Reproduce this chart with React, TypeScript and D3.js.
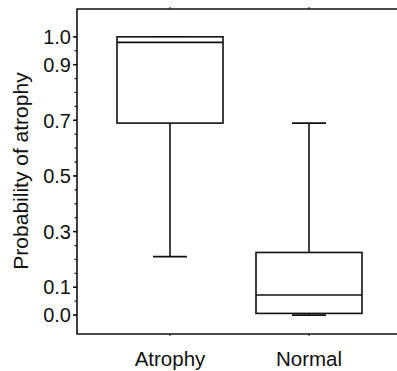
import { useEffect, useRef } from "react";
import * as d3 from "d3";

interface BoxStats {
  group: string;
  min: number;
  q1: number;
  median: number;
  q3: number;
  max: number;
}

const groups = ["Atrophy", "Normal"];
const mins = [0.21, 0.0];
const q1s = [0.69, 0.006];
const medians = [0.98, 0.072];
const q3s = [1.0, 0.225];
const maxs = [1.0, 0.69];

const yTickLabels = [0.0, 0.1, 0.3, 0.5, 0.7, 0.9, 1.0];
const yMinorTicks = d3.range(0, 21).map((i) => i * 0.05);

const yLabel = "Probability of atrophy";

const boxes: BoxStats[] = groups.map((g, i) => ({
  group: g,
  min: mins[i],
  q1: q1s[i],
  median: medians[i],
  q3: q3s[i],
  max: maxs[i],
}));

export default function App() {
  const svgRef = useRef<SVGSVGElement>(null);

  useEffect(() => {
    if (!svgRef.current) return;
    const svg = d3.select(svgRef.current);
    svg.selectAll("*").remove();

    const width = 397;
    const left = 77;
    const top = 9;
    const bottom = 334;
    const font = "'Liberation Sans', Arial, Helvetica, sans-serif";
    const ink = "#111";

    const y = d3.scaleLinear().domain([-0.068, 1.1]).range([bottom, top]);
    const x = d3.scalePoint<string>().domain(groups).range([170, 309]);

    const boxHalf = 53;
    const capHalf = 17;

    // frame: left axis, top and bottom lines (open on the right)
    svg
      .append("path")
      .attr("d", `M${width},${top}H${left}V${bottom}H${width}`)
      .attr("fill", "none")
      .attr("stroke", ink)
      .attr("stroke-width", 1.6);

    // minor ticks
    svg
      .append("g")
      .selectAll("line")
      .data(yMinorTicks)
      .join("line")
      .attr("x1", left - 2.5)
      .attr("x2", left)
      .attr("y1", (d) => y(d))
      .attr("y2", (d) => y(d))
      .attr("stroke", ink)
      .attr("stroke-width", 1.2);

    // major ticks + labels
    const major = svg.append("g");
    major
      .selectAll("line")
      .data(yTickLabels)
      .join("line")
      .attr("x1", left - 4)
      .attr("x2", left)
      .attr("y1", (d) => y(d))
      .attr("y2", (d) => y(d))
      .attr("stroke", ink)
      .attr("stroke-width", 1.5);
    major
      .selectAll("text")
      .data(yTickLabels)
      .join("text")
      .attr("x", left - 6)
      .attr("y", (d) => y(d))
      .attr("dy", "0.36em")
      .attr("text-anchor", "end")
      .attr("font-family", font)
      .attr("font-size", 20)
      .attr("fill", ink)
      .text((d) => d3.format(".1f")(d));

    // category ticks on top and bottom lines
    const catTicks = svg.append("g");
    groups.forEach((g) => {
      catTicks
        .append("line")
        .attr("x1", x(g)!)
        .attr("x2", x(g)!)
        .attr("y1", top - 2)
        .attr("y2", top)
        .attr("stroke", ink);
      catTicks
        .append("line")
        .attr("x1", x(g)!)
        .attr("x2", x(g)!)
        .attr("y1", bottom)
        .attr("y2", bottom + 2)
        .attr("stroke", ink);
    });

    // category labels
    svg
      .append("g")
      .selectAll("text")
      .data(groups)
      .join("text")
      .attr("x", (d) => x(d)!)
      .attr("y", 366)
      .attr("text-anchor", "middle")
      .attr("font-family", font)
      .attr("font-size", 20.5)
      .attr("fill", ink)
      .text((d) => d);

    // y axis title
    svg
      .append("text")
      .attr("transform", `translate(28,171) rotate(-90)`)
      .attr("text-anchor", "middle")
      .attr("font-family", font)
      .attr("font-size", 21)
      .attr("fill", ink)
      .text(yLabel);

    // box plots
    const bp = svg
      .append("g")
      .selectAll("g")
      .data(boxes)
      .join("g")
      .attr("stroke", ink)
      .attr("stroke-width", 1.6)
      .attr("fill", "none");

    bp.append("line")
      .attr("x1", (d) => x(d.group)!)
      .attr("x2", (d) => x(d.group)!)
      .attr("y1", (d) => y(d.q1))
      .attr("y2", (d) => y(d.min));
    bp.append("line")
      .attr("x1", (d) => x(d.group)!)
      .attr("x2", (d) => x(d.group)!)
      .attr("y1", (d) => y(d.q3))
      .attr("y2", (d) => y(d.max));
    bp.append("line")
      .attr("x1", (d) => x(d.group)! - capHalf)
      .attr("x2", (d) => x(d.group)! + capHalf)
      .attr("y1", (d) => y(d.min))
      .attr("y2", (d) => y(d.min));
    bp.append("line")
      .attr("x1", (d) => x(d.group)! - capHalf)
      .attr("x2", (d) => x(d.group)! + capHalf)
      .attr("y1", (d) => y(d.max))
      .attr("y2", (d) => y(d.max));
    bp.append("rect")
      .attr("x", (d) => x(d.group)! - boxHalf)
      .attr("width", boxHalf * 2)
      .attr("y", (d) => y(d.q3))
      .attr("height", (d) => y(d.q1) - y(d.q3))
      .attr("fill", "white");
    bp.append("line")
      .attr("x1", (d) => x(d.group)! - boxHalf)
      .attr("x2", (d) => x(d.group)! + boxHalf)
      .attr("y1", (d) => y(d.median))
      .attr("y2", (d) => y(d.median));
  }, []);

  return (
    <div style={{ position: "absolute", left: 0, top: 0, background: "white" }}>
      <svg ref={svgRef} width={397} height={371} style={{ display: "block" }} />
    </div>
  );
}
